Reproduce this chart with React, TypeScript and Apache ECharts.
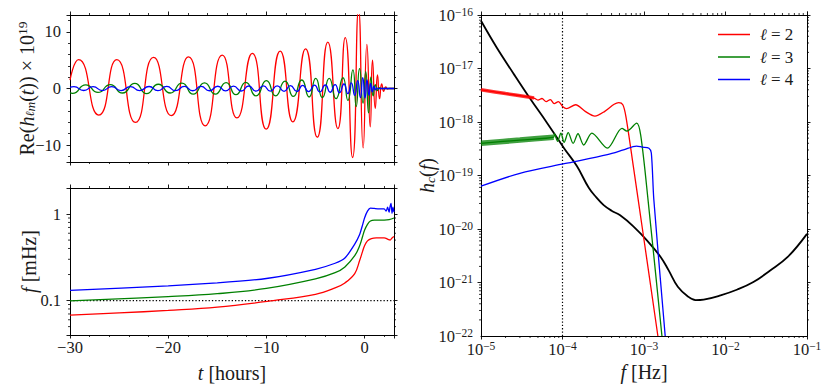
import React, { useEffect, useRef } from 'react';
import * as echarts from 'echarts';

// ---------- Top-left: Re(h_lm(t)) x 1e19 vs t [hours] (extrema) ----------
const waveL2: [number, number][] = [
  [-30, 1.5], [-29.13, 5.1], [-27.06, -4.7], [-25.23, 5.1], [-23.33, -6.0], [-21.49, 5.5],
  [-19.69, -4.8], [-17.93, 5.6], [-16.23, -6.6], [-14.5, 5.9], [-13.0, -5.2], [-11.44, 6.2],
  [-10.02, -7.2], [-8.59, 6.6], [-7.3, -5.9], [-6.01, 7.0], [-4.82, -8.6], [-3.74, 8.2],
  [-2.72, -7.1], [-1.97, 9.0], [-1.22, -12.2], [-0.61, 14.0], [-0.14, -10.5], [0.24, 7.8],
  [0.58, -6.8], [0.81, 5.0], [1.09, -3.5], [1.32, 2.4], [1.53, -1.8], [1.75, 0.8],
  [1.95, -0.5], [2.15, 0.3], [2.35, -0.1], [2.5, 0], [3, 0],
];
const waveL3: [number, number][] = [
  [-30, -0.7], [-29.75, -0.85], [-28.4, 0.65], [-27.15, -0.7], [-25.9, 0.7], [-24.65, -0.8],
  [-23.4, 0.9], [-22.2, -0.9], [-21.0, 0.75], [-19.8, -0.8], [-18.6, 0.95], [-17.45, -1.0],
  [-16.3, 1.0], [-15.2, -1.0], [-14.1, 1.05], [-13.1, -1.1], [-12.1, 1.1], [-11.05, -1.3],
  [-10.0, 1.4], [-9.05, -1.3], [-8.1, 1.3], [-7.25, -1.4], [-6.4, 1.5], [-5.65, -1.5],
  [-4.97, 1.8], [-4.3, -1.6], [-3.6, 1.8], [-2.9, -1.8], [-2.2, 1.9], [-1.7, -2.1],
  [-1.19, 3.3], [-0.85, -3.2], [-0.51, 3.5], [-0.15, -2.6], [0.12, 3.0], [0.41, -4.3],
  [0.65, 2.0], [0.88, -1.3], [1.1, 0.7], [1.3, -0.35], [1.5, 0.15], [1.7, 0], [3, 0],
];
const waveL4: [number, number][] = [
  [-30, 0.2], [-29.6, 0.32], [-28.6, -0.35], [-27.65, 0.32], [-26.7, -0.36], [-25.75, 0.33],
  [-24.8, -0.36], [-23.85, 0.34], [-22.9, -0.37], [-21.95, 0.35], [-21.05, -0.38], [-20.15, 0.36],
  [-19.25, -0.38], [-18.35, 0.37], [-17.5, -0.4], [-16.65, 0.38], [-15.8, -0.4], [-14.95, 0.4],
  [-14.15, -0.42], [-13.35, 0.42], [-12.55, -0.44], [-11.8, 0.44], [-11.05, -0.46], [-10.3, 0.46],
  [-9.6, -0.48], [-8.9, 0.48], [-8.2, -0.5], [-7.55, 0.5], [-6.9, -0.52], [-6.3, 0.54],
  [-5.7, -0.56], [-5.1, 0.58], [-4.55, -0.6], [-4.0, 0.62], [-3.5, -0.66], [-3.0, 0.7],
  [-2.55, -0.74], [-2.1, 0.8], [-1.7, -0.9], [-1.35, 1.0], [-1.0, -1.2], [-0.7, 1.4],
  [-0.42, -1.6], [-0.18, 1.9], [0.05, -1.7], [0.25, 1.5], [0.45, -1.2], [0.62, 0.9],
  [0.8, -0.6], [0.95, 0.4], [1.1, -0.25], [1.25, 0.12], [1.4, -0.05], [1.6, 0], [3, 0],
];

// ---------- Bottom-left: f [mHz] vs t [hours] ----------
const freqL2: [number, number][] = [
  [-30, 0.068], [-25, 0.072], [-20, 0.077], [-15, 0.084], [-9.3, 0.1], [-5, 0.118], [-3, 0.14],
  [-2, 0.16], [-1, 0.205], [-0.5, 0.29], [-0.2, 0.37], [0, 0.43], [0.3, 0.49], [0.7, 0.52],
  [1.2, 0.53], [2, 0.53], [2.4, 0.51], [2.6, 0.5], [2.8, 0.53], [3, 0.55],
];
const freqL3: [number, number][] = [
  [-30, 0.099], [-20, 0.111], [-15, 0.12], [-10, 0.138], [-5, 0.178], [-3, 0.21], [-2, 0.245],
  [-1, 0.33], [-0.5, 0.43], [-0.2, 0.55], [0, 0.65], [0.3, 0.76], [0.6, 0.83], [1, 0.85],
  [2, 0.85], [2.5, 0.86], [3, 0.9],
];
const freqL4: [number, number][] = [
  [-30, 0.131], [-20, 0.148], [-15, 0.16], [-10, 0.18], [-5, 0.23], [-3, 0.27], [-2, 0.31],
  [-1, 0.45], [-0.5, 0.58], [-0.2, 0.75], [0, 0.9], [0.3, 1.08], [0.6, 1.17], [1, 1.16],
  [1.5, 1.15], [2, 1.15], [2.2, 1.08], [2.35, 1.2], [2.5, 1.05], [2.6, 1.22], [2.7, 1.33],
  [2.8, 1.02], [2.9, 1.2], [3, 1.05],
];
const refFreq: [number, number][] = [[-30, 0.1], [3, 0.1]];

// ---------- Right: h_c(f) vs f [Hz] ----------
const hcL2: [number, number][] = [
  [1e-5, 4.0e-18], [2.0e-5, 3.4e-18], [3.47e-5, 3.0e-18], [4.47e-5, 2.8e-18], [5.0e-5, 2.57e-18],
  [5.6e-5, 2.75e-18], [6.3e-5, 2.4e-18], [7.1e-5, 2.63e-18], [7.9e-5, 2.2e-18], [8.9e-5, 2.4e-18],
  [1.02e-4, 1.9e-18], [1.12e-4, 1.78e-18], [1.45e-4, 2.1e-18], [1.9e-4, 1.58e-18],
  [2.5e-4, 1.29e-18], [3.3e-4, 1.58e-18], [4.3e-4, 2.14e-18], [4.9e-4, 2.3e-18],
  [5.5e-4, 2.1e-18], [6.0e-4, 1.26e-18], [7.4e-4, 1.48e-19], [1e-3, 6.3e-21], [1.48e-3, 1e-22],
];
const bandL2: [number, number][] = [[1e-5, 4.0e-18], [2.0e-5, 3.4e-18], [3.47e-5, 3.0e-18], [4.47e-5, 2.8e-18]];
const hcL3: [number, number][] = [
  [1e-5, 4.0e-19], [3.0e-5, 4.6e-19], [7.8e-5, 5.2e-19], [7.94e-5, 6.03e-19], [8.71e-5, 4.37e-19],
  [9.55e-5, 6.17e-19], [1.047e-4, 4.17e-19], [1.175e-4, 6.31e-19], [1.35e-4, 3.98e-19],
  [1.55e-4, 6.03e-19], [1.82e-4, 3.72e-19], [2.29e-4, 6.17e-19], [3.55e-4, 3.24e-19],
  [5.37e-4, 7.59e-19], [6.17e-4, 6.76e-19], [8.13e-4, 9.55e-19], [9.12e-4, 5.62e-19],
  [1.12e-3, 3.55e-20], [1.66e-3, 1e-22],
];
const bandL3: [number, number][] = [[1e-5, 4.0e-19], [3.0e-5, 4.6e-19], [7.8e-5, 5.2e-19]];
const hcL4: [number, number][] = [
  [1e-5, 6.3e-20], [3.0e-5, 1.1e-19], [1.05e-4, 1.66e-19], [3.55e-4, 2.45e-19], [5.6e-4, 3.0e-19],
  [8.1e-4, 3.55e-19], [9.5e-4, 3.4e-19], [1.15e-3, 3.24e-19], [1.23e-3, 2.63e-19],
  [1.32e-3, 3.55e-20], [1.82e-3, 1e-22],
];
const sensitivity: [number, number][] = [
  [1e-5, 7.8e-17], [1.55e-5, 2.5e-17], [2.5e-5, 8.1e-18], [4.0e-5, 2.75e-18], [6.5e-5, 9.5e-19],
  [1.05e-4, 3.2e-19], [1.5e-4, 1.5e-19], [2.1e-4, 5.9e-20], [2.6e-4, 3.9e-20], [3.2e-4, 2.8e-20],
  [4.0e-4, 2.2e-20], [5.1e-4, 1.8e-20], [7.4e-4, 1.12e-20], [1.1e-3, 6.0e-21], [1.6e-3, 3.0e-21],
  [2.0e-3, 1.7e-21], [2.6e-3, 8.3e-22], [3.4e-3, 5.6e-22], [4.3e-3, 4.7e-22], [5.4e-3, 4.8e-22],
  [8.7e-3, 5.75e-22], [1.4e-2, 7.4e-22], [2.2e-2, 1.02e-21], [3.5e-2, 1.66e-21], [5.8e-2, 3.0e-21],
  [1e-1, 8.1e-21],
];
const refF: [number, number][] = [[1e-4, 1e-22], [1e-4, 1e-16]];

// tick labels of the right panel's y axis (h_c decades)
const HC_TICKS = [1e-22, 1e-21, 1e-20, 1e-19, 1e-18, 1e-17, 1e-16];

const LEGEND_NAMES = ['ℓ = 2', 'ℓ = 3', 'ℓ = 4'];
const COLORS = ['#ff0000', '#008000', '#0000ff'];

// minor tick positions for the log axes
const MULTS = [2, 3, 4, 5, 6, 7, 8, 9];
const F_DECADES = [1e-5, 1e-4, 1e-3, 1e-2];
const H_DECADES = [1e-22, 1e-21, 1e-20, 1e-19, 1e-18, 1e-17];
const MHZ_MINOR = [0.05, 0.06, 0.07, 0.08, 0.09, 0.2, 0.3, 0.4, 0.5, 0.6, 0.7, 0.8, 0.9];

const FONT = '"Liberation Serif", "DejaVu Serif", "Times New Roman", serif';
const ELL_FONT = '"DejaVu Serif", serif';
const TXT = '#1a1a1a';

const expLabel = (v: number) => {
  const e = Math.round(Math.log10(v));
  const s = e < 0 ? '\u2212' + Math.abs(e) : String(e);
  return `{b|10}{s|${s}}`;
};
const logRich = {
  b: { fontFamily: FONT, fontSize: 16.5, color: TXT },
  s: { fontFamily: FONT, fontSize: 11.5, color: TXT, padding: [0, 0, 7, 0] },
};
const nameRich = {
  i: { fontFamily: FONT, fontSize: 20, fontStyle: 'italic', color: TXT },
  sub: { fontFamily: FONT, fontSize: 13.5, fontStyle: 'italic', color: TXT, padding: [7, 0, 0, 0] },
  subl: { fontFamily: ELL_FONT, fontSize: 12, fontStyle: 'italic', color: TXT, padding: [7, 0, 0, 0] },
  sup: { fontFamily: FONT, fontSize: 13.5, color: TXT, padding: [0, 0, 9, 0] },
};
const nameStyle = { fontFamily: FONT, fontSize: 20, color: TXT, rich: nameRich };
const lbl = { color: TXT, fontFamily: FONT, fontSize: 16.5 };
const axLine = { show: true, onZero: false, lineStyle: { color: '#000', width: 1 } };
const tick = { show: true, inside: false, length: 3.5, lineStyle: { color: '#000', width: 0.9 } };
const minor = { show: true, splitNumber: 5, length: 2, lineStyle: { color: '#000', width: 0.8 } };
const noSplit = { show: false };
const minusFmt = (v: number) => (v < 0 ? '\u2212' + Math.abs(v) : String(v));

function minorTicks(xIdx: number, yIdx: number, dir: 'x' | 'y', values: number[], lo: number, hi: number, len = 2) {
  return {
    type: 'custom',
    xAxisIndex: xIdx,
    yAxisIndex: yIdx,
    silent: true,
    clip: false,
    z: 5,
    data: values.map((v) => (dir === 'x' ? [v, lo] : [lo, v])),
    encode: { x: 0, y: 1 },
    renderItem: (_p: any, api: any) => {
      const st = { stroke: '#000', lineWidth: 0.8 };
      if (dir === 'x') {
        const v = api.value(0);
        const a = api.coord([v, lo]);
        const b = api.coord([v, hi]);
        return {
          type: 'group',
          children: [
            { type: 'line', shape: { x1: a[0], y1: a[1], x2: a[0], y2: a[1] + len }, style: st },
            { type: 'line', shape: { x1: b[0], y1: b[1], x2: b[0], y2: b[1] - len }, style: st },
          ],
        };
      }
      const v = api.value(1);
      const a = api.coord([lo, v]);
      const b = api.coord([hi, v]);
      return {
        type: 'group',
        children: [
          { type: 'line', shape: { x1: a[0] - len, y1: a[1], x2: a[0], y2: a[1] }, style: st },
          { type: 'line', shape: { x1: b[0], y1: b[1], x2: b[0] + len, y2: b[1] }, style: st },
        ],
      };
    },
  };
}

// y tick labels of the right panel, placed with the axis' own scale
function hcLabels() {
  return {
    type: 'custom',
    xAxisIndex: 4,
    yAxisIndex: 4,
    silent: true,
    clip: false,
    z: 6,
    data: HC_TICKS.map((v) => [1e-5, v]),
    encode: { x: 0, y: 1 },
    renderItem: (_p: any, api: any) => {
      const v = api.value(1);
      const p = api.coord([1e-5, v]);
      return {
        type: 'text',
        x: p[0] - 8,
        y: p[1],
        style: {
          text: expLabel(v),
          rich: logRich,
          align: 'right',
          verticalAlign: 'middle',
          fill: TXT,
          fontFamily: FONT,
          fontSize: 16.5,
        },
      };
    },
  };
}

const line = (name: string, data: [number, number][], color: string, xi: number, yi: number, extra: any = {}) => ({
  name,
  type: 'line',
  xAxisIndex: xi,
  yAxisIndex: yi,
  data,
  symbol: 'none',
  showSymbol: false,
  lineStyle: { color, width: 1.3 },
  itemStyle: { color },
  ...extra,
});

export default function App() {
  const ref = useRef<HTMLDivElement>(null);
  useEffect(() => {
    if (!ref.current) return;
    const chart = echarts.init(ref.current, undefined, { renderer: 'svg' });
    const fMinor: number[] = [];
    F_DECADES.forEach((d) => MULTS.forEach((m) => fMinor.push(d * m)));
    const hMinor: number[] = [];
    H_DECADES.forEach((d) => MULTS.forEach((m) => hMinor.push(d * m)));

    const linX = (gridIndex: number, position: string, showLabel: boolean, extra: any = {}) => ({
      type: 'value', gridIndex, position, min: -30, max: 3, interval: 10, nameMoveOverlap: false,
      axisLine: axLine, axisTick: tick, minorTick: minor, splitLine: noSplit,
      axisLabel: { show: showLabel, ...lbl, margin: 4, formatter: (v: number) => (v % 10 === 0 ? minusFmt(v) : '') },
      ...extra,
    });
    const logX = (position: string, showLabel: boolean, extra: any = {}) => ({
      type: 'log', logBase: 10, gridIndex: 2, position, min: 1e-5, max: 1e-1, nameMoveOverlap: false,
      axisLine: axLine, axisTick: tick, minorTick: { show: false }, splitLine: noSplit,
      axisLabel: { show: showLabel, margin: 4, showMinLabel: true, showMaxLabel: true, formatter: expLabel, rich: logRich },
      ...extra,
    });
    const waveY = (position: string, showLabel: boolean, extra: any = {}) => ({
      type: 'value', gridIndex: 0, position, min: -13, max: 13, splitNumber: 3, nameMoveOverlap: false,
      axisLine: axLine, axisTick: tick, minorTick: minor, splitLine: noSplit,
      axisLabel: { show: showLabel, ...lbl, margin: 9, formatter: (v: number) => (Math.abs(v % 10) < 1e-9 ? minusFmt(v) : '') },
      ...extra,
    });
    const freqY = (position: string, showLabel: boolean, extra: any = {}) => ({
      type: 'log', logBase: 10, gridIndex: 1, position, min: 0.04, max: 2, nameMoveOverlap: false,
      axisLine: axLine, axisTick: tick, minorTick: { show: false }, splitLine: noSplit,
      axisLabel: {
        show: showLabel, ...lbl, margin: 9,
        formatter: (v: number) => (Math.abs(v - 0.1) < 1e-6 ? '0.1' : Math.abs(v - 1) < 1e-6 ? '1' : ''),
      },
      ...extra,
    });
    const hcY = (position: string, extra: any = {}) => ({
      type: 'log', logBase: 10, gridIndex: 2, position, min: 1e-22, max: 1e-16, nameMoveOverlap: false,
      axisLine: axLine, axisTick: tick, minorTick: { show: false }, splitLine: noSplit,
      axisLabel: { show: false },
      ...extra,
    });

    const option: any = {
      animation: false,
      backgroundColor: '#ffffff',
      grid: [
        { left: 70, top: 15, width: 324, height: 147, containLabel: false, outerBoundsMode: 'none' },
        { left: 70, top: 188, width: 324, height: 147, containLabel: false, outerBoundsMode: 'none' },
        { left: 481, top: 15, width: 326, height: 321, containLabel: false, outerBoundsMode: 'none' },
      ],
      xAxis: [
        linX(0, 'bottom', false),
        linX(0, 'top', false),
        linX(1, 'bottom', true, {
          name: '{i|t} [hours]', nameLocation: 'middle', nameGap: 28, nameTextStyle: nameStyle,
        }),
        linX(1, 'top', false),
        logX('bottom', true, {
          name: '{i|f} [Hz]', nameLocation: 'middle', nameGap: 26, nameTextStyle: nameStyle,
        }),
        logX('top', false),
      ],
      yAxis: [
        waveY('left', true, {
          name: 'Re({i|h}{subl|ℓ}{sub|m}({i|t})) × 10{sup|19}', nameLocation: 'middle', nameRotate: 90,
          nameGap: 32, nameTextStyle: nameStyle,
        }),
        waveY('right', false),
        freqY('left', true, {
          name: '{i|f} [mHz]', nameLocation: 'middle', nameRotate: 90, nameGap: 31, nameTextStyle: nameStyle,
        }),
        freqY('right', false),
        hcY('left', {
          name: '{i|h}{sub|c}({i|f})', nameLocation: 'middle', nameRotate: 90, nameGap: 44, nameTextStyle: nameStyle,
        }),
        hcY('right'),
      ],
      legend: {
        data: LEGEND_NAMES,
        orient: 'vertical',
        left: 713,
        top: 21,
        icon: 'rect',
        itemWidth: 32,
        itemHeight: 1.5,
        itemGap: 5.5,
        formatter: (n: string) => n.replace('ℓ', '{l|ℓ}'),
        textStyle: {
          fontFamily: FONT, fontSize: 17, color: TXT, padding: [0, 0, 0, 5],
          rich: { l: { fontFamily: ELL_FONT, fontStyle: 'italic', fontSize: 16, color: TXT } },
        },
      },
      series: [
        line('h2', waveL2, COLORS[0], 0, 0, { smooth: 0.6 }),
        line('h3', waveL3, COLORS[1], 0, 0, { smooth: 0.6 }),
        line('h4', waveL4, COLORS[2], 0, 0, { smooth: 0.6 }),
        line('ref-f', refFreq, '#000', 2, 2, { lineStyle: { color: '#000', width: 1.2, type: [1.3, 2] } }),
        line('f2', freqL2, COLORS[0], 2, 2, { smooth: 0.4 }),
        line('f3', freqL3, COLORS[1], 2, 2, { smooth: 0.4 }),
        line('f4', freqL4, COLORS[2], 2, 2, { smooth: 0.2 }),
        line('ref-hz', refF, '#000', 4, 4, { lineStyle: { color: '#000', width: 1.2, type: [1.3, 2] } }),
        line('sens', sensitivity, '#000', 4, 4, { smooth: 0.4, lineStyle: { color: '#000', width: 1.8 } }),
        line('band2', bandL2, COLORS[0], 4, 4, { smooth: 0.3, lineStyle: { color: COLORS[0], width: 3.5, opacity: 0.8 } }),
        line('band3', bandL3, COLORS[1], 4, 4, { smooth: 0.3, lineStyle: { color: COLORS[1], width: 5.5, opacity: 0.75 } }),
        line(LEGEND_NAMES[0], hcL2, COLORS[0], 4, 4, { smooth: 0.3 }),
        line(LEGEND_NAMES[1], hcL3, COLORS[1], 4, 4, { smooth: 0.3 }),
        line(LEGEND_NAMES[2], hcL4, COLORS[2], 4, 4, { smooth: 0.3 }),
        minorTicks(2, 2, 'y', MHZ_MINOR, -30, 3),
        minorTicks(4, 4, 'x', fMinor, 1e-22, 1e-16),
        minorTicks(4, 4, 'y', hMinor, 1e-5, 1e-1),
        hcLabels(),
      ],
    };
    chart.setOption(option);
    return () => chart.dispose();
  }, []);
  return (
    <div
      ref={ref}
      style={{ position: 'absolute', left: 0, top: 0, width: 831, height: 392, background: '#fff' }}
    />
  );
}
